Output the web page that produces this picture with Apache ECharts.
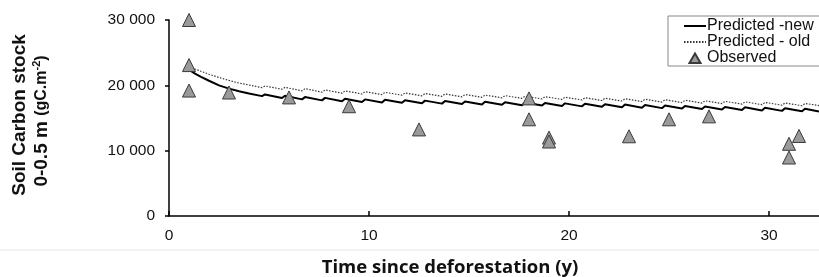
<!DOCTYPE html>
<html>
<head>
<meta charset="utf-8">
<script src="https://cdn.jsdelivr.net/npm/echarts@6/dist/echarts.min.js"></script>
<style>
  html, body { margin: 0; padding: 0; background: #fff; }
  #chart { width: 819px; height: 277px; }
</style>
</head>
<body>
<div id="chart"></div>
<script>
// model time steps (years), shared by both predicted curves
const modelYears = [1, 1.3, 1.6, 2, 2.5, 3, 3.5, 4,
  4.65, 4.8, 5.65, 5.8, 6.65, 6.8, 7.65, 7.8, 8.65, 8.8, 9.65, 9.8,
  10.65, 10.8, 11.65, 11.8, 12.65, 12.8, 13.65, 13.8, 14.65, 14.8, 15.65, 15.8,
  16.65, 16.8, 17.65, 17.8, 18.65, 18.8, 19.65, 19.8, 20.65, 20.8, 21.65, 21.8,
  22.65, 22.8, 23.65, 23.8, 24.65, 24.8, 25.65, 25.8, 26.65, 26.8, 27.65, 27.8,
  28.65, 28.8, 29.65, 29.8, 30.65, 30.8, 31.65, 31.8, 32.5];

const predictedNew = [22400, 21800, 21300, 20700, 20000, 19500, 19100, 18750,
  18350, 18600, 18050, 18400, 17850, 18200, 17700, 18080, 17550, 17950, 17450, 17850,
  17380, 17780, 17320, 17720, 17260, 17660, 17200, 17600, 17140, 17540, 17080, 17480,
  17020, 17420, 16960, 17360, 16900, 17300, 16840, 17240, 16780, 17180, 16720, 17120,
  16650, 17050, 16580, 16980, 16510, 16910, 16440, 16840, 16370, 16770, 16300, 16700,
  16230, 16630, 16160, 16560, 16090, 16490, 16020, 16420, 16000];

const predictedOld = [22900, 22500, 22150, 21700, 21200, 20750, 20350, 20050,
  19650, 19900, 19400, 19700, 19150, 19500, 18950, 19300, 18800, 19150, 18680, 19030,
  18580, 18930, 18490, 18840, 18400, 18750, 18320, 18670, 18240, 18590, 18160, 18510,
  18080, 18430, 18000, 18350, 17920, 18270, 17840, 18190, 17760, 18110, 17680, 18030,
  17600, 17950, 17520, 17870, 17440, 17790, 17360, 17710, 17280, 17630, 17200, 17550,
  17120, 17470, 17040, 17390, 16960, 17310, 16880, 17230, 16900];

const observedYears = [1, 1, 1, 3, 6, 9, 12.5, 18, 18, 19, 19, 23, 25, 27, 31, 31, 31.5];
const observedStock = [30000, 23100, 19200, 18900, 18150, 16800, 13250, 18000, 14800,
  12000, 11400, 12200, 14800, 15250, 11050, 8950, 12250];

const xTicks = [0, 10, 20, 30];

const zip = (xs, ys) => xs.map((x, i) => [x, ys[i]]);

const chart = echarts.init(document.getElementById('chart'));

const axisFont = 'Liberation Sans, Arial, sans-serif';
// legend line icons: hide the symbol that line series add in the middle
const noSymbol = { color: 'rgba(0,0,0,0)', borderWidth: 0 };

const option = {
  animation: false,
  backgroundColor: '#fff',
  grid: { left: 169, right: 0, top: 20, bottom: 61, containLabel: false },
  xAxis: {
    type: 'value',
    min: 0,
    max: 32.5,
    interval: 10,
    splitLine: { show: false },
    axisLine: { lineStyle: { color: '#000', width: 1.5 } },
    axisTick: { inside: true, length: 5, customValues: xTicks, lineStyle: { color: '#000', width: 1.5 } },
    axisLabel: {
      customValues: xTicks,
      margin: 12,
      color: '#111',
      fontFamily: axisFont,
      fontSize: 15.5
    }
  },
  yAxis: {
    type: 'value',
    min: 0,
    max: 30000,
    interval: 10000,
    splitLine: { show: false },
    axisLine: { show: true, lineStyle: { color: '#000', width: 1.5 } },
    axisTick: { show: true, length: 4, lineStyle: { color: '#000', width: 1.5 } },
    axisLabel: {
      margin: 14,
      color: '#111',
      fontFamily: axisFont,
      fontSize: 15.5,
      formatter: v => String(v).replace(/\B(?=(\d{3})+(?!\d))/g, ' ')
    }
  },
  legend: {
    orient: 'vertical',
    left: 668,
    top: 16,
    itemWidth: 22,
    itemHeight: 12,
    itemGap: 0,
    padding: [2, 30, 0, 15],
    backgroundColor: '#fff',
    borderColor: '#888',
    borderWidth: 1,
    borderRadius: 0,
    textStyle: {
      color: '#111',
      fontFamily: axisFont,
      fontSize: 16,
      padding: [0, 0, 0, -4]
    },
    data: [
      { name: 'Predicted -new', itemStyle: noSymbol },
      { name: 'Predicted - old', itemStyle: noSymbol },
      { name: 'Observed', icon: 'path://M0,0M22,12M11,1.5L16.5,11L5.5,11Z' }
    ]
  },
  graphic: [
    {
      type: 'line',
      shape: { x1: 0, y1: 250, x2: 819, y2: 250 },
      style: { stroke: '#e4e4e4', lineWidth: 1 }
    },
    {
      type: 'text',
      x: 450,
      y: 268,
      style: {
        text: 'Time since deforestation (y)',
        font: 'bold 18.5px "Open Sans", sans-serif',
        fill: '#111',
        align: 'center',
        verticalAlign: 'middle'
      }
    },
    {
      type: 'text',
      x: 20,
      y: 115,
      rotation: Math.PI / 2,
      style: {
        text: 'Soil Carbon stock',
        font: 'bold 19px "Liberation Sans", Arial, sans-serif',
        fill: '#111',
        align: 'center',
        verticalAlign: 'middle'
      }
    },
    {
      type: 'text',
      x: 42,
      y: 121,
      rotation: Math.PI / 2,
      style: {
        text: '{a|0-0.5 m }{b|(gC.m}{s|-2}{b|)}',
        align: 'center',
        verticalAlign: 'middle',
        fill: '#111',
        rich: {
          a: { font: 'bold 19px "Liberation Sans", Arial, sans-serif', fill: '#111', lineHeight: 22 },
          b: { font: 'bold 16px "Liberation Sans", Arial, sans-serif', fill: '#111', lineHeight: 22 },
          s: { font: 'bold 11px "Liberation Sans", Arial, sans-serif', fill: '#111', lineHeight: 22, verticalAlign: 'top', padding: [0, 0, 8, 0] }
        }
      }
    }
  ],
  series: [
    {
      name: 'Predicted -new',
      type: 'line',
      symbol: 'none',
      z: 3,
      lineStyle: { color: '#000', width: 2 },
      itemStyle: { color: '#000' },
      data: zip(modelYears, predictedNew)
    },
    {
      name: 'Predicted - old',
      type: 'line',
      symbol: 'none',
      z: 2,
      lineStyle: { color: '#333', width: 1.2, type: [1.5, 1.5] },
      itemStyle: { color: '#333' },
      data: zip(modelYears, predictedOld)
    },
    {
      name: 'Observed',
      type: 'scatter',
      symbol: 'triangle',
      symbolSize: [13, 13],
      z: 4,
      itemStyle: { color: '#9a9a9a', borderColor: '#3a3a3a', borderWidth: 1, opacity: 1 },
      data: zip(observedYears, observedStock)
    }
  ]
};

chart.setOption(option);
</script>
</body>
</html>
